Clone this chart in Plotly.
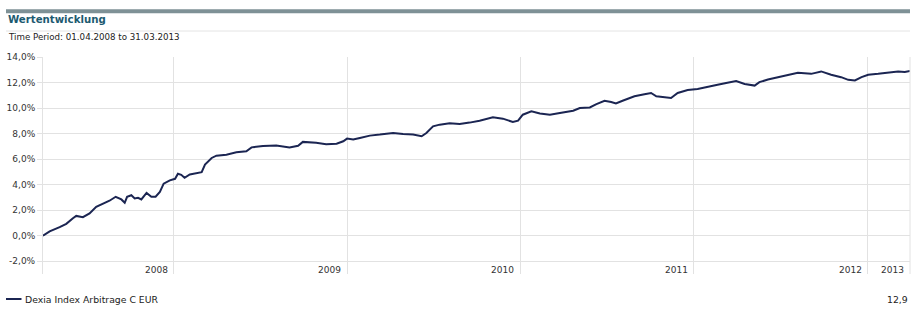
import plotly.graph_objects as go

dates = [
    "2008-04-01", "2008-04-15", "2008-05-06", "2008-05-20", "2008-06-03", "2008-06-10",
    "2008-06-24", "2008-07-08", "2008-07-22", "2008-08-05", "2008-08-19", "2008-09-01",
    "2008-09-13", "2008-09-20", "2008-09-25", "2008-10-04", "2008-10-11", "2008-10-18",
    "2008-10-25", "2008-11-05", "2008-11-15", "2008-11-24", "2008-12-03", "2008-12-11",
    "2008-12-24", "2009-01-04", "2009-01-10", "2009-01-17", "2009-01-24", "2009-02-04",
    "2009-03-01", "2009-03-08", "2009-03-22", "2009-04-01", "2009-04-22", "2009-05-13",
    "2009-06-03", "2009-06-14", "2009-07-08", "2009-08-05", "2009-09-02", "2009-09-20",
    "2009-09-30", "2009-10-28", "2009-11-18", "2009-12-10", "2009-12-24", "2010-01-01",
    "2010-01-14", "2010-01-28", "2010-02-18", "2010-03-11", "2010-04-08", "2010-04-29",
    "2010-05-20", "2010-06-07", "2010-06-17", "2010-07-01", "2010-07-15", "2010-08-05",
    "2010-08-26", "2010-09-16", "2010-10-07", "2010-11-04", "2010-11-25", "2010-12-16",
    "2010-12-27", "2011-01-06", "2011-01-24", "2011-02-11", "2011-03-04", "2011-03-25",
    "2011-04-22", "2011-05-06", "2011-05-27", "2011-06-10", "2011-06-27", "2011-07-11",
    "2011-07-21", "2011-08-04", "2011-08-17", "2011-08-29", "2011-09-19", "2011-10-03",
    "2011-10-14", "2011-10-31", "2011-11-14", "2011-11-28", "2011-12-19", "2012-01-09",
    "2012-01-30", "2012-02-20", "2012-03-09", "2012-03-30", "2012-04-17", "2012-05-08",
    "2012-05-18", "2012-06-05", "2012-06-26", "2012-07-17", "2012-08-07", "2012-09-04",
    "2012-09-25", "2012-10-16", "2012-11-06", "2012-11-21", "2012-12-05", "2012-12-19",
    "2013-01-02", "2013-01-23", "2013-02-13", "2013-03-06", "2013-03-20", "2013-03-31",
]

values = [
    0.00, 0.34, 0.67, 0.93, 1.37, 1.55,
    1.45, 1.75, 2.27, 2.53, 2.74, 3.05,
    2.84, 2.58, 3.05, 3.17, 2.92, 2.97,
    2.84, 3.35, 3.05, 3.05, 3.43, 4.08,
    4.34, 4.46, 4.85, 4.77, 4.54, 4.80,
    4.98, 5.57, 6.09, 6.27, 6.35, 6.53,
    6.61, 6.92, 7.02, 7.07, 6.92, 7.05,
    7.35, 7.28, 7.17, 7.20, 7.40, 7.61,
    7.53, 7.66, 7.84, 7.92, 8.05, 7.97,
    7.92, 7.79, 8.05, 8.57, 8.70, 8.81,
    8.75, 8.86, 9.01, 9.27, 9.17, 8.91,
    9.01, 9.48, 9.74, 9.58, 9.48, 9.61,
    9.79, 10.00, 10.05, 10.31, 10.57, 10.47,
    10.36, 10.57, 10.75, 10.92, 11.08, 11.18,
    10.92, 10.87, 10.79, 11.18, 11.42, 11.50,
    11.63, 11.82, 11.97, 12.11, 11.89, 11.76,
    12.03, 12.24, 12.42, 12.61, 12.76, 12.68,
    12.87, 12.61, 12.42, 12.21, 12.16, 12.42,
    12.61, 12.68, 12.76, 12.87, 12.82, 12.90,
]

series_name = "Dexia Index Arbitrage C EUR"
title_text = "Wertentwicklung"
period_text = "Time Period: 01.04.2008 to 31.03.2013"
year_gridlines = ["2009-01-01", "2010-01-01", "2011-01-01", "2012-01-01", "2013-01-01"]
year_labels = ["2008", "2009", "2010", "2011", "2012", "2013"]
y_ticks = [-2, 0, 2, 4, 6, 8, 10, 12, 14]
y_tick_labels = [f"{v:.1f}".replace(".", ",") + "%" for v in y_ticks]

FONT = "DejaVu Sans"
LINE_COLOR = "#1b2552"
GRID = "#e2e2e2"
TEXT = "#333333"

fig = go.Figure()
fig.add_trace(go.Scatter(
    x=dates, y=values, mode="lines",
    line=dict(color=LINE_COLOR, width=2),
    name=series_name, showlegend=False, hoverinfo="x+y",
))

W, H = 912, 316
ml, mr, mt, mb = 43, 2, 57, 42

fig.update_layout(
    width=W, height=H,
    margin=dict(l=ml, r=mr, t=mt, b=mb),
    paper_bgcolor="white", plot_bgcolor="white",
    font=dict(family=FONT, size=9, color=TEXT),
    xaxis=dict(
        type="date", range=[dates[0], dates[-1]],
        tickvals=year_gridlines, showticklabels=False,
        showgrid=True, gridcolor=GRID, gridwidth=1,
        zeroline=False, showline=False, ticks="",
    ),
    yaxis=dict(
        range=[-3, 14], tickvals=y_ticks, ticktext=y_tick_labels,
        showgrid=True, gridcolor=GRID, gridwidth=1, zeroline=False,
        showline=True, linecolor=GRID, linewidth=1,
        ticks="outside", ticklen=5, tickcolor=GRID,
        tickfont=dict(family=FONT, size=9, color=TEXT),
    ),
)

# right border of plot
fig.add_shape(type="line", xref="paper", yref="paper", x0=1, x1=1, y0=0, y1=1,
              line=dict(color=GRID, width=1))

# year labels (right aligned before each year boundary)
label_pos = year_gridlines + [dates[-1]]
for lab, xp in zip(year_labels, label_pos):
    fig.add_annotation(x=xp, xref="x", y=0, yref="paper", text=lab,
                       showarrow=False, xanchor="right", yanchor="middle",
                       xshift=-4, yshift=4,
                       font=dict(family=FONT, size=9, color=TEXT))

def px_x(px):
    return (px - ml) / (W - ml - mr)

def px_y(py):
    return 1 - (py - mt) / (H - mt - mb)

# header
fig.add_shape(type="line", xref="paper", yref="paper",
              x0=px_x(6), x1=px_x(910), y0=px_y(11.3), y1=px_y(11.3),
              line=dict(color="#7e9196", width=4))
fig.add_shape(type="line", xref="paper", yref="paper",
              x0=px_x(6), x1=px_x(910), y0=px_y(31), y1=px_y(31),
              line=dict(color="#e4e4e4", width=1))
fig.add_annotation(text="<b>" + title_text + "</b>", xref="paper", yref="paper",
                   x=px_x(6), y=px_y(19.5), xanchor="left", yanchor="middle",
                   showarrow=False, font=dict(family=FONT, size=10.2, color="#1c5a70"))
fig.add_annotation(text=period_text, xref="paper", yref="paper",
                   x=px_x(6), y=px_y(37.5), xanchor="left", yanchor="middle",
                   showarrow=False, font=dict(family=FONT, size=8.7, color="#222222"))

# legend
fig.add_shape(type="line", xref="paper", yref="paper",
              x0=px_x(6), x1=px_x(21.5), y0=px_y(299), y1=px_y(299),
              line=dict(color=LINE_COLOR, width=2))
fig.add_annotation(text=series_name, xref="paper", yref="paper",
                   x=px_x(23), y=px_y(299), xanchor="left", yanchor="middle",
                   showarrow=False, font=dict(family=FONT, size=9.3, color="#222222"))
last_text = f"{values[-1]:.1f}".replace(".", ",")
fig.add_annotation(text=last_text, xref="paper", yref="paper",
                   x=px_x(910), y=px_y(299), xanchor="right", yanchor="middle",
                   showarrow=False, font=dict(family=FONT, size=9.3, color="#222222"))

fig.write_html("out.html")
